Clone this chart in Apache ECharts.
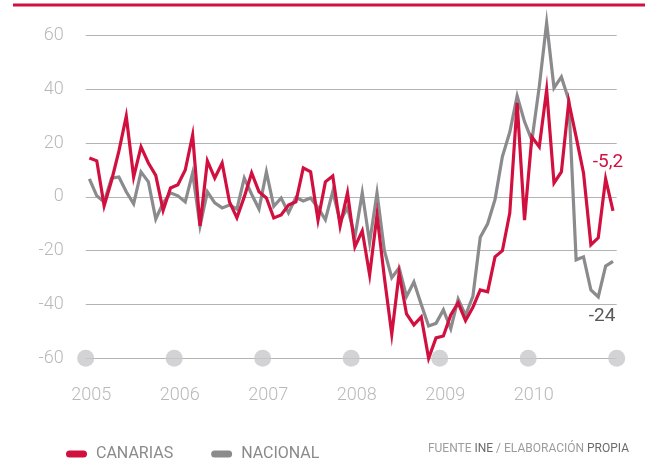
<!DOCTYPE html>
<html>
<head>
<meta charset="utf-8">
<script src="https://cdn.jsdelivr.net/npm/echarts@6/dist/echarts.min.js"></script>
<style>
  html, body { margin: 0; padding: 0; background: #fff; }
  #chart { width: 645px; height: 460px; }
</style>
</head>
<body>
<div id="chart"></div>
<script>
// monthly values, Jan 2005 .. Dec 2010
const canarias = [
  14.5, 13.4, -3.3, 6, 17, 30, 7.4, 18.6, 12.6, 8, -5, 3.3,
  4.5, 10, 23, -10.8, 13.4, 7, 12.6, -1.9, -7.8, 0, 8.9, 1.9,
  -0.4, -7.8, -6.7, -3, -1.8, 10.8, 9.3, -8.6, 5.6, 7.8, -10.8, 1.5,
  -18.6, -12.6, -29, -6.7, -30, -51, -28.3, -43.5, -47.6, -44.6, -60, -52.4,
  -51.7, -43.9, -39.4, -46, -41, -34.6, -35.3, -22.3, -20, -6, 35, -8.6,
  22.3, 18.6, 39.8, 5.2, 9.3, 35.3, 22.3, 8.9, -17.8, -15.2, 6.7, -5.2
]
const nacional = [
  6.7, 0.4, -1.9, 7, 7.4, 1.9, -2.6, 9.3, 5.6, -8.2, -2.2, 1.5,
  0.4, -1.9, 8.9, -10.8, 1.9, -2.2, -4.1, -3, -4.5, 7, 1, -4.5,
  9.3, -3.5, -0.4, -5.9, -0.2, -1.5, -0.4, -4, -8.5, 2, -9, -4,
  -15, 1.5, -17, 1.5, -20, -30, -26.4, -37, -31.6, -40, -48, -47,
  -42, -49, -38, -44, -37, -15, -10, -1, 15, 24, 37.5, 28,
  21, 41, 64.7, 40.5, 44.6, 36, -23.4, -22.3, -34.6, -37.2, -25.7, -24
]
const years = ['2005', '2006', '2007', '2008', '2009', '2010', '']
const yearMarks = [0, 12, 24, 36, 48, 60, 72]
const endLabels = ['-5,2', '-24']

const RED = '#d2103f'
const GREY = '#8b8b8e'
const LIGHT = '#b9b9bb'

const chart = echarts.init(document.getElementById('chart'))

const toPoints = arr => arr.map((v, i) => [i + 0.5, v])

const option = {
  animation: false,
  grid: { left: 85.7, right: 28.3, top: 35.5, bottom: 101.7 },
  xAxis: {
    type: 'value',
    min: 0,
    max: 72,
    interval: 12,
    axisLine: { show: false },
    axisTick: { show: false },
    splitLine: { show: false },
    axisLabel: {
      margin: 28,
      color: LIGHT,
      fontFamily: 'Roboto',
      fontWeight: 300,
      fontSize: 18,
      padding: [0, 0, 0, 11],
      formatter: v => years[v / 12]
    }
  },
  yAxis: {
    type: 'value',
    min: -60,
    max: 60,
    interval: 20,
    axisLine: { show: false },
    axisTick: { show: false },
    splitLine: { lineStyle: { color: '#b3b3b3', width: 1.2 } },
    axisLabel: {
      margin: 22,
      color: LIGHT,
      fontFamily: 'Roboto',
      fontWeight: 300,
      fontSize: 18,
      formatter: v => (v < 0 ? '-' + Math.abs(v) : String(v))
    }
  },
  legend: {
    left: 61,
    top: 441,
    itemWidth: 21,
    itemHeight: 7,
    itemGap: 38,
    icon: 'path://M3.5,0 L17.5,0 A3.5,3.5 0 0 1 17.5,7 L3.5,7 A3.5,3.5 0 0 1 3.5,0 Z',
    textStyle: {
      color: '#8a8a8c',
      fontFamily: 'Roboto',
      fontSize: 16,
      padding: [0, 0, 0, 4]
    },
    data: ['CANARIAS', 'NACIONAL']
  },
  graphic: [
    {
      type: 'rect',
      shape: { x: 13, y: 3.5, width: 640, height: 3 },
      style: { fill: RED }
    },
    {
      type: 'text',
      right: 16,
      top: 443,
      style: {
        text: '{l|FUENTE }{d|INE}{l| / ELABORACIÓN }{d|PROPIA}',
        rich: {
          l: { fill: '#9c9c9e', fontFamily: 'Roboto', fontSize: 12 },
          d: { fill: '#6a6a6c', fontFamily: 'Roboto', fontSize: 12 }
        }
      }
    }
  ],
  series: [
    {
      type: 'scatter',
      silent: true,
      symbolSize: 17,
      itemStyle: { color: '#c8c8ca' },
      z: 1,
      data: yearMarks.map(m => [m, -60])
    },
    {
      name: 'NACIONAL',
      type: 'line',
      symbol: 'none',
      clip: false,
      z: 2,
      lineStyle: { color: GREY, width: 3.2, join: 'miter' },
      itemStyle: { color: GREY },
      data: toPoints(nacional),
      markPoint: {
        symbol: 'circle',
        symbolSize: 0,
        label: {
          show: true,
          formatter: endLabels[1],
          color: '#58585a',
          fontFamily: 'Roboto',
          fontSize: 19,
          offset: [-11, 55]
        },
        data: [{ coord: [nacional.length - 0.5, nacional[nacional.length - 1]] }]
      }
    },
    {
      name: 'CANARIAS',
      type: 'line',
      symbol: 'none',
      clip: false,
      z: 3,
      lineStyle: { color: RED, width: 3.2, join: 'miter' },
      itemStyle: { color: RED },
      data: toPoints(canarias),
      markPoint: {
        symbol: 'circle',
        symbolSize: 0,
        label: {
          show: true,
          formatter: endLabels[0],
          color: RED,
          fontFamily: 'Roboto',
          fontSize: 19,
          offset: [-5, -49]
        },
        data: [{ coord: [canarias.length - 0.5, canarias[canarias.length - 1]] }]
      }
    }
  ]
}

chart.setOption(option)
window.addEventListener('resize', () => chart.resize())
</script>
</body>
</html>
